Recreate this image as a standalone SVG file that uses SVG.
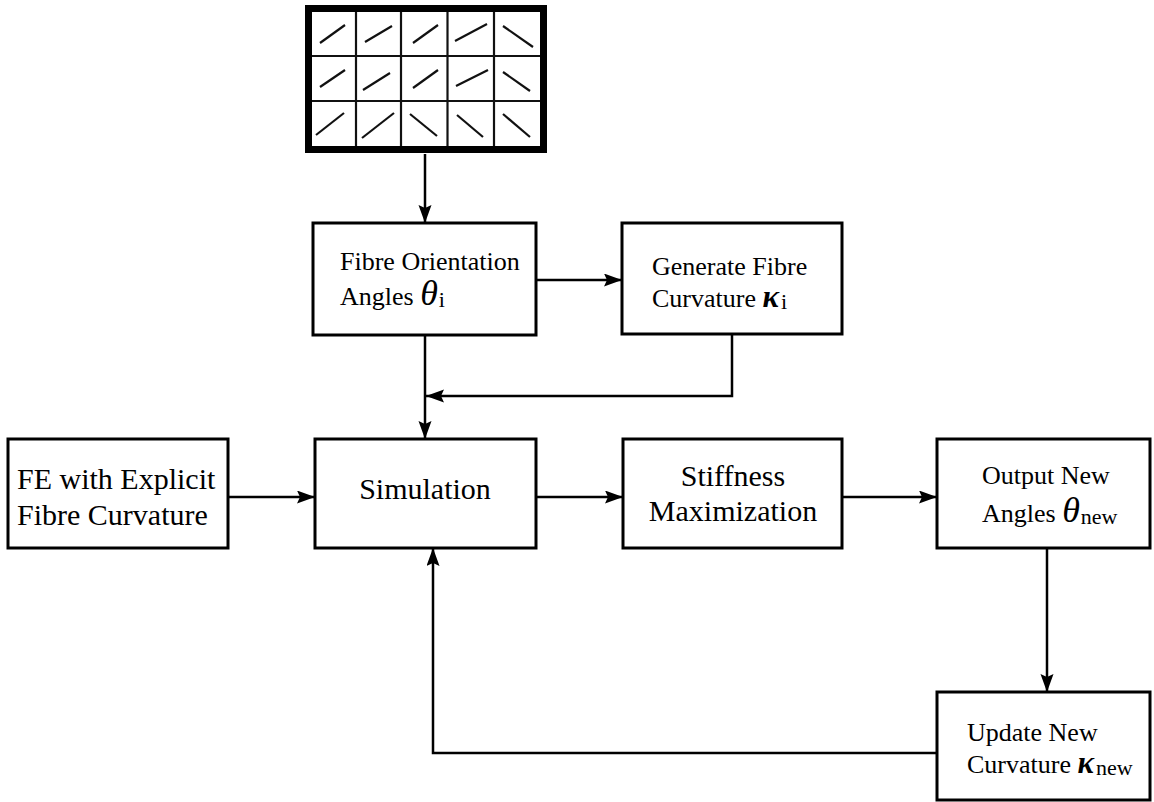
<svg xmlns="http://www.w3.org/2000/svg" width="1154" height="802" viewBox="0 0 1154 802">
<style>
.box{fill:#fff;stroke:#000;stroke-width:3}
.t{fill:#000;font-family:'Liberation Serif','DejaVu Serif','Noto Serif','Times New Roman',serif}
.s{font-size:26px}
.l{font-size:30px}
.sym{font-style:italic;font-size:36px}
.k{font-style:italic;font-weight:bold;font-size:31px}
.sub{font-size:22px}
.c{fill:none;stroke:#000;stroke-width:2.5}
.g{stroke:#111;stroke-width:2.2}
</style>
<defs>
<marker id="ah" markerUnits="userSpaceOnUse" markerWidth="20" markerHeight="14" refX="18" refY="6.5" orient="auto">
<path d="M0,0 L18,6.5 L0,13 L3,6.5 z" fill="#000"/>
</marker>
</defs>
<g id="grid">
<rect x="308.5" y="8.5" width="235" height="141" fill="#fff" stroke="#000" stroke-width="7"/>
<g class="g">
<line x1="356" y1="12" x2="356" y2="146"/>
<line x1="401" y1="12" x2="401" y2="146"/>
<line x1="447.5" y1="12" x2="447.5" y2="146"/>
<line x1="494" y1="12" x2="494" y2="146"/>
<line x1="312" y1="56" x2="540" y2="56"/>
<line x1="312" y1="101" x2="540" y2="101"/>
<line x1="320" y1="43" x2="345" y2="25"/>
<line x1="365" y1="42" x2="392" y2="26"/>
<line x1="413" y1="43" x2="438" y2="25"/>
<line x1="455" y1="41" x2="487" y2="24"/>
<line x1="503" y1="26" x2="533" y2="47"/>
<line x1="320" y1="87" x2="345" y2="70"/>
<line x1="363" y1="90" x2="390" y2="73"/>
<line x1="413" y1="88" x2="438" y2="70"/>
<line x1="456" y1="86" x2="488" y2="70"/>
<line x1="503" y1="72" x2="530" y2="91"/>
<line x1="316" y1="135" x2="344" y2="113"/>
<line x1="362" y1="138" x2="394" y2="113"/>
<line x1="410" y1="114" x2="437" y2="136"/>
<line x1="457" y1="115" x2="483" y2="137"/>
<line x1="503" y1="114" x2="530" y2="137"/>
</g>
</g>
<g id="connectors">
<line class="c" x1="425" y1="154" x2="425" y2="223" marker-end="url(#ah)"/>
<line class="c" x1="536" y1="280" x2="622" y2="280" marker-end="url(#ah)"/>
<line class="c" x1="425" y1="335" x2="425" y2="439" marker-end="url(#ah)"/>
<polyline class="c" points="732,334 732,396 426,396" marker-end="url(#ah)"/>
<line class="c" x1="228" y1="497" x2="315" y2="497" marker-end="url(#ah)"/>
<line class="c" x1="536" y1="497" x2="623" y2="497" marker-end="url(#ah)"/>
<line class="c" x1="842" y1="497" x2="937" y2="497" marker-end="url(#ah)"/>
<line class="c" x1="1047" y1="548" x2="1047" y2="692" marker-end="url(#ah)"/>
<polyline class="c" points="937,753 433,753 433,548" marker-end="url(#ah)"/>
</g>
<g id="fibre-orientation">
<rect class="box" x="313" y="223" width="223" height="112"/>
<text class="t s" x="340" y="270">Fibre Orientation</text>
<text class="t s" x="340" y="305">Angles <tspan class="sym">θ</tspan><tspan class="sub" dy="2" dx="1">i</tspan></text>
</g>
<g id="generate-curvature">
<rect class="box" x="622" y="223" width="220" height="111"/>
<text class="t s" x="652" y="275">Generate Fibre</text>
<text class="t s" x="652" y="307">Curvature <tspan class="k">κ</tspan><tspan class="sub" dy="2" dx="2">i</tspan></text>
</g>
<g id="fe">
<rect class="box" x="8" y="439" width="220" height="109"/>
<text class="t l" x="17" y="489">FE with Explicit</text>
<text class="t l" x="17" y="525">Fibre Curvature</text>
</g>
<g id="simulation">
<rect class="box" x="315" y="439" width="221" height="109"/>
<text class="t l" x="425" y="499" text-anchor="middle">Simulation</text>
</g>
<g id="stiffness">
<rect class="box" x="623" y="439" width="219" height="109"/>
<text class="t l" x="733" y="486" text-anchor="middle">Stiffness</text>
<text class="t l" x="733" y="521" text-anchor="middle">Maximization</text>
</g>
<g id="output">
<rect class="box" x="937" y="439" width="213" height="109"/>
<text class="t s" x="982" y="484">Output New</text>
<text class="t s" x="982" y="522">Angles <tspan class="sym">θ</tspan><tspan class="sub" dy="2" dx="1">new</tspan></text>
</g>
<g id="update">
<rect class="box" x="937" y="692" width="213" height="108"/>
<text class="t s" x="967" y="741">Update New</text>
<text class="t s" x="967" y="773">Curvature <tspan class="k">κ</tspan><tspan class="sub" dy="2" dx="2">new</tspan></text>
</g>
</svg>
